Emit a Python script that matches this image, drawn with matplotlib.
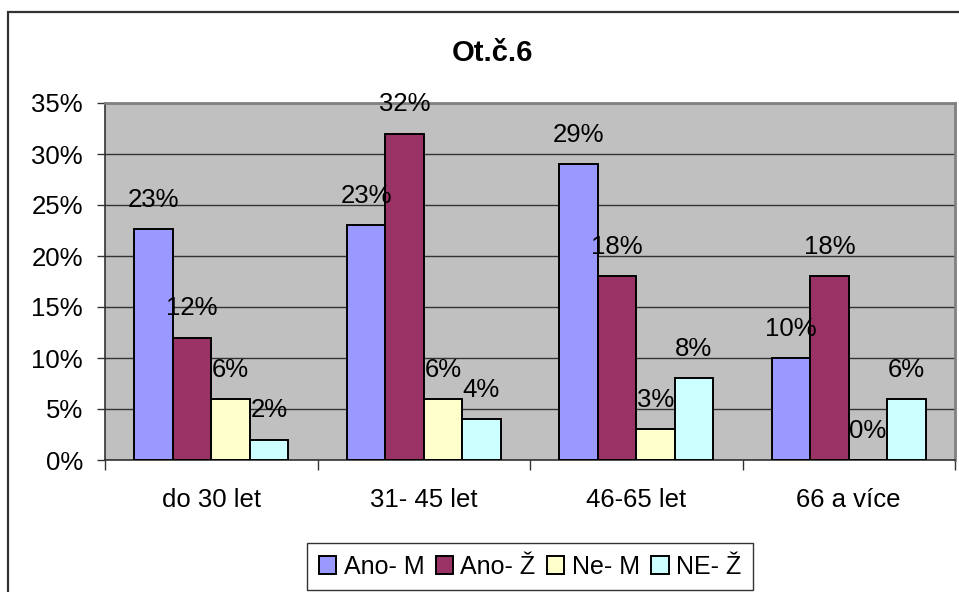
import numpy as np
import matplotlib
matplotlib.use("Agg")
import matplotlib.pyplot as plt
from matplotlib.patches import Rectangle
from matplotlib.ticker import FuncFormatter, FixedLocator

plt.rcParams["font.family"] = ["Liberation Sans", "DejaVu Sans"]

# data
categories = ["do 30 let", "31- 45 let", "46-65 let", "66 a více"]
series_names = ["Ano- M", "Ano- Ž", "Ne- M", "NE- Ž"]
ano_m = [0.226, 0.23, 0.29, 0.10]
ano_z = [0.12, 0.32, 0.18, 0.18]
ne_m = [0.06, 0.06, 0.03, 0.00]
ne_z = [0.02, 0.04, 0.08, 0.06]
series = [ano_m, ano_z, ne_m, ne_z]
colors = ["#9999FF", "#993366", "#FFFFCC", "#CCFFFF"]

W, H = 959, 592
fig = plt.figure(figsize=(W / 100, H / 100), dpi=100)
ax = fig.add_axes([105 / W, 1 - 460 / H, (955 - 105) / W, (460 - 103) / H])
ax.set_facecolor("#C0C0C0")

#marco exterior del grafico (solo se ven borde izquierdo y superior)
fig.patches.append(Rectangle((8 / W, -0.5), 1.5, 1.5 - 12 / H, transform=fig.transFigure,
                             fill=False, edgecolor="#333333", lw=1.6))

x = np.arange(len(categories))
bw = 0.181
for i, (vals, col, name) in enumerate(zip(series, colors, series_names)):
    pos = x + (i - 1.5) * bw
    ax.bar(pos, vals, width=bw, color=col, edgecolor="black", lw=1.4, label=name, zorder=3)
    for p, v in zip(pos, vals):
        ax.annotate(f"{v * 100:.0f}%", (p, v), xytext=(0, 21), textcoords="offset points",
                    ha="center", va="center", fontsize=18.5, zorder=4)

ax.set_xlim(-0.5, 3.5)
ax.set_ylim(0, 0.35)
ax.set_yticks(np.arange(0, 0.351, 0.05))
ax.yaxis.set_major_formatter(FuncFormatter(lambda v, _: f"{v * 100:.0f}%"))
ax.tick_params(axis="y", length=6, width=1, labelsize=18.5, pad=10, color="#333333")
ax.yaxis.grid(True, color="#333333", lw=1, zorder=1)
ax.set_axisbelow(True)

ax.set_xticks(x)
ax.set_xticklabels(categories)
ax.xaxis.set_minor_locator(FixedLocator(np.arange(-0.5, 3.6, 1)))
ax.tick_params(axis="x", which="major", length=0, labelsize=18.5, pad=20)
ax.tick_params(axis="x", which="minor", length=7, width=1, color="#333333")

for s in ["top", "right"]:
    ax.spines[s].set_color("#808080")
    ax.spines[s].set_linewidth(2)
for s in ["left", "bottom"]:
    ax.spines[s].set_color("#333333")
    ax.spines[s].set_linewidth(1.2)

fig.text(492 / W, 1 - 53 / H, "Ot.č.6", ha="center", va="center", fontsize=21, fontweight="bold")

leg = fig.legend(loc="center", bbox_to_anchor=(530 / W, 1 - 566.5 / H), ncol=4, fontsize=18,
                 frameon=True, fancybox=False, edgecolor="black", handlelength=0.7,
                 handleheight=0.7, handletextpad=0.3, columnspacing=0.45, borderpad=0.45)
leg.get_frame().set_linewidth(1)

plt.savefig("out.png", dpi=100)
plt.close()
